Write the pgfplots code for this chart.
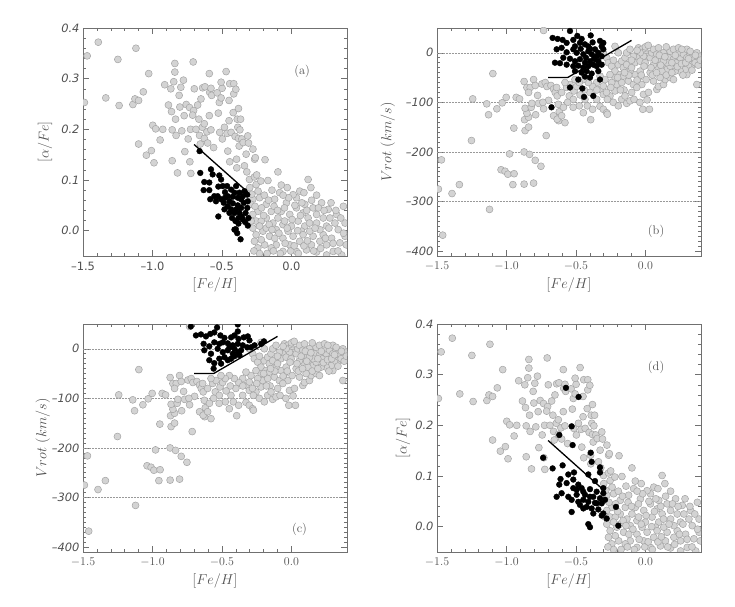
\documentclass[border=0pt]{standalone}
\usepackage{fontspec}
\usepackage{pgfplots}
\usepackage{pgfplotstable}
\pgfplotsset{compat=1.18}
\newfontfamily\tickfont{DejaVu Sans}

\definecolor{ptgray}{HTML}{D3D3D3}
\definecolor{ptedge}{HTML}{A4A4A4}
\definecolor{frame}{HTML}{707070}
\definecolor{txt}{HTML}{505050}

% whole sample in the chemistry plane (panels a and d)
\pgfplotstableread{
x y
-1.470 0.345
-1.490 0.253
-1.390 0.372
-1.336 0.262
-1.249 0.338
-1.240 0.247
-1.119 0.360
-1.141 0.249
-1.126 0.260
-1.100 0.257
-1.066 0.274
-1.027 0.310
-1.100 0.171
-1.044 0.149
-1.008 0.158
-0.989 0.134
-0.998 0.208
-0.977 0.201
-0.945 0.179
-0.926 0.200
-0.912 0.288
-0.885 0.248
-0.868 0.280
-0.863 0.235
-0.858 0.199
-0.858 0.138
-0.847 0.294
-0.839 0.330
-0.839 0.313
-0.834 0.220
-0.830 0.188
-0.820 0.114
-0.808 0.267
-0.803 0.244
-0.796 0.283
-0.789 0.197
-0.777 0.297
-0.757 0.249
-0.772 0.227
-0.767 0.156
-0.743 0.181
-0.731 0.136
-0.733 0.243
-0.726 0.200
-0.724 0.113
-0.707 0.333
-0.699 0.280
-0.704 0.237
-0.711 0.228
-0.687 0.200
-0.675 0.248
-0.666 0.220
-0.661 0.188
-0.656 0.171
-0.651 0.260
-0.639 0.282
-0.641 0.204
-0.627 0.211
-0.627 0.182
-0.622 0.284
-0.608 0.195
-0.603 0.173
-0.591 0.310
-0.588 0.273
-0.579 0.281
-0.574 0.267
-0.591 0.227
-0.579 0.199
-0.560 0.164
-0.535 0.272
-0.526 0.232
-0.519 0.253
-0.516 0.194
-0.506 0.262
-0.499 0.281
-0.506 0.293
-0.497 0.181
-0.482 0.204
-0.470 0.314
-0.463 0.192
-0.458 0.157
-0.449 0.217
-0.449 0.257
-0.444 0.290
-0.444 0.136
-0.434 0.194
-0.419 0.233
-0.415 0.290
-0.415 0.270
-0.405 0.186
-0.400 0.279
-0.395 0.141
-0.390 0.220
-0.386 0.204
-0.381 0.241
-0.381 0.182
-0.376 0.167
-0.371 0.199
-0.366 0.220
-0.357 0.181
-0.347 0.174
-0.338 0.128
-0.326 0.151
-0.314 0.187
-0.309 0.173
-0.277 0.161
-0.265 0.141
-0.260 0.144
-0.190 0.140
-0.393 0.124
-0.321 0.116
-0.302 0.101
-0.266 0.106
-0.254 0.091
-0.169 0.099
-0.097 0.116
-0.073 0.090
0.120 0.101
0.060 0.078
0.036 0.065
0.181 0.070
0.217 0.055
0.265 0.042
0.374 0.048
0.325 0.032
0.386 0.015
0.337 0.002
0.253 0.009
0.181 0.032
0.156 0.045
0.096 0.052
0.036 0.045
-0.012 0.032
-0.073 0.038
-0.121 0.062
-0.181 0.052
-0.229 0.065
-0.278 0.062
-0.242 0.038
-0.181 0.025
-0.133 0.015
-0.254 0.019
-0.278 0.005
-0.205 -0.001
-0.157 -0.011
-0.109 0.002
-0.061 0.012
-0.024 -0.001
0.012 -0.011
0.060 -0.021
-0.012 -0.028
-0.109 -0.028
-0.193 -0.028
-0.217 -0.018
-0.254 -0.008
-0.061 -0.041
0.036 -0.041
0.108 -0.038
0.181 -0.042
0.253 -0.028
0.301 -0.041
0.362 -0.048
0.156 -0.011
0.229 -0.008
0.289 -0.015
0.096 0.009
0.048 0.019
0.120 0.025
0.181 0.015
0.229 0.025
0.277 0.025
0.313 0.015
0.386 -0.011
0.349 -0.024
0.395 -0.028
-0.036 0.055
0.012 0.071
0.084 0.035
0.132 -0.001
0.205 0.002
-0.061 -0.015
-0.145 0.038
-0.217 0.019
-0.097 0.025
-0.049 0.019
0.000 0.009
0.072 -0.001
0.144 -0.028
0.205 -0.021
0.253 -0.048
0.084 -0.008
-0.290 0.052
-0.278 0.032
-0.290 0.019
-0.229 0.009
-0.181 0.005
-0.145 -0.034
-0.266 -0.021
-0.242 -0.034
-0.285 0.072
-0.262 0.048
-0.240 0.078
-0.215 0.045
-0.200 0.030
-0.195 0.070
-0.165 0.060
-0.160 0.012
-0.140 0.002
-0.125 0.048
-0.120 -0.015
-0.100 0.040
-0.090 -0.005
-0.085 0.075
-0.080 -0.045
-0.050 0.045
-0.045 -0.025
-0.030 0.005
-0.020 0.065
-0.005 -0.040
0.005 0.022
0.020 -0.030
0.025 0.050
0.045 0.000
0.050 -0.045
0.065 0.030
0.075 0.055
0.090 -0.030
0.110 0.040
0.115 -0.020
0.130 0.015
0.145 0.060
0.160 -0.040
0.170 0.005
0.195 0.045
0.210 -0.035
0.235 0.040
0.245 -0.015
0.270 0.005
0.285 0.055
0.300 -0.025
0.320 0.040
0.335 -0.040
0.355 0.025
0.375 -0.005
-0.230 -0.045
-0.175 -0.045
-0.130 -0.040
-0.250 0.110
-0.220 0.098
-0.140 0.080
-0.060 0.070
-0.030 0.085
0.090 0.075
0.140 0.085
-0.300 0.085
-0.270 -0.040
}\grayalpha

% whole sample in the kinematic plane (panels b and c)
\pgfplotstableread{
x y
-0.733 45
-1.098 -42
-1.243 -93
-1.142 -103
-1.129 -125
-1.069 -113
-1.031 -101
-1.002 -90
-1.252 -177
-1.468 -216
-1.490 -275
-1.392 -284
-1.339 -266
-1.122 -316
-1.459 -368
-1.039 -236
-1.010 -239
-0.990 -245
-0.945 -244
-0.954 -266
-0.873 -265
-0.805 -263
-0.752 -229
-0.793 -217
-0.873 -200
-0.834 -205
-0.978 -204
-0.947 -152
-0.866 -157
-0.841 -150
-0.714 -167
-0.870 -135
-0.841 -130
-0.853 -122
-0.866 -112
-0.822 -110
-0.790 -125
-0.930 -90
-0.906 -93
-0.873 -58
-0.853 -70
-0.829 -70
-0.841 -80
-0.805 -54
-0.793 -66
-0.817 -102
-0.776 -86
-0.769 -102
-0.745 -63
-0.721 -60
-0.709 -68
-0.680 -66
-0.661 -73
-0.649 -80
-0.697 -96
-0.738 -100
-0.733 -113
-0.642 -130
-0.661 -127
-0.625 -137
-0.639 -70
-0.635 -87
-0.627 -104
-0.620 -119
-0.635 -134
-0.603 -127
-0.579 -141
-0.603 -80
-0.567 -70
-0.548 -87
-0.519 -94
-0.514 -77
-0.495 -68
-0.476 -107
-0.447 -121
-0.435 -94
-0.418 -107
-0.394 -135
-0.380 -114
-0.351 -94
-0.327 -108
-0.303 -114
-0.279 -121
-0.274 -124
-0.327 -74
-0.303 -84
-0.255 -87
-0.219 -77
-0.207 -64
-0.171 -94
-0.154 -75
-0.135 -102
-0.111 -97
-0.082 -94
-0.123 -57
-0.087 -64
-0.050 -50
-0.026 -64
-0.014 -84
-0.019 -114
0.029 -114
0.005 -54
0.034 -40
0.058 -57
0.082 -74
0.094 -68
0.130 -64
0.142 -54
0.178 -50
0.202 -54
0.298 -44
0.370 -64
0.334 -24
0.274 -17
-0.303 -67
-0.171 -60
-0.075 -44
-0.038 -37
-0.062 -70
-0.147 -87
-0.231 -100
-0.195 -107
-0.274 -94
-0.099 -80
0.022 -80
0.106 -50
-0.050 10
-0.026 7
-0.002 3
0.010 -3
0.022 -7
0.034 -10
-0.014 -7
-0.038 0
-0.062 -10
-0.075 -20
-0.038 -17
-0.002 -20
0.046 0
0.058 7
0.082 -3
0.106 -13
0.130 -27
0.154 -34
0.118 -37
0.082 -27
0.058 -24
0.094 10
0.130 0
0.166 -10
0.178 3
0.202 -13
0.226 -20
0.250 -10
0.238 0
0.274 -3
0.298 -10
0.322 -3
0.346 -10
0.370 0
0.382 -10
0.358 -20
0.310 -27
0.286 -34
0.250 -37
0.214 -37
0.178 -27
0.154 -20
0.130 -17
0.202 7
0.238 10
0.298 7
0.322 3
0.262 7
0.394 -7
-0.303 0
-0.279 -10
-0.267 -20
-0.243 -27
-0.219 -37
-0.195 -24
-0.171 -17
-0.147 -10
-0.135 0
-0.111 7
-0.087 -7
-0.159 -30
-0.183 -44
-0.219 -50
-0.255 -44
-0.291 -54
-0.327 -47
-0.351 -60
-0.380 -68
-0.411 -60
-0.447 -54
-0.476 -60
-0.507 -54
-0.543 -64
-0.579 -60
-0.243 -60
-0.159 -47
-0.111 -37
-0.135 -24
-0.195 0
-0.219 13
-0.010 -27
0.040 -30
0.070 -15
0.100 -5
0.110 -25
0.140 -8
0.150 -45
0.190 -40
0.190 -20
0.215 -5
0.230 -28
0.260 -22
0.270 -45
0.290 -20
0.310 -12
0.335 -35
0.360 -5
0.380 -25
0.395 -15
0.000 12
-0.060 5
0.020 15
0.150 12
-0.100 -30
-0.120 -45
-0.060 -55
-0.030 -45
0.050 -45
0.080 -40
-0.200 -50
-0.180 -75
-0.250 -70
-0.280 -80
-0.150 -40
-0.100 -15
-0.230 -15
0.012 -95
-0.040 -100
-0.350 -75
-0.400 -80
-0.440 -75
-0.470 -85
-0.520 -110
-0.560 -100
-0.590 -110
}\grayvrot

% chemically selected stars (a: chemistry plane, b: kinematic plane)
\pgfplotstableread{
x y
-0.661 0.157
-0.656 0.114
-0.627 0.096
-0.591 0.095
-0.579 0.121
-0.567 0.111
-0.632 0.080
-0.591 0.080
-0.584 0.062
-0.543 0.058
-0.555 0.068
-0.526 0.087
-0.519 0.109
-0.506 0.101
-0.526 0.028
-0.494 0.088
-0.478 0.076
-0.463 0.088
-0.458 0.068
-0.434 0.081
-0.410 0.075
-0.398 0.088
-0.374 0.075
-0.350 0.068
-0.362 0.062
-0.338 0.078
-0.318 0.071
-0.314 0.058
-0.318 0.045
-0.309 0.025
-0.314 0.010
-0.330 0.035
-0.357 0.028
-0.381 0.025
-0.410 0.035
-0.434 0.042
-0.458 0.048
-0.487 0.055
-0.506 0.062
-0.478 0.065
-0.446 0.058
-0.422 0.054
-0.386 0.050
-0.362 0.045
-0.374 0.035
-0.398 0.042
-0.410 0.002
-0.390 -0.005
-0.366 -0.017
-0.400 0.003
-0.531 0.068
-0.422 0.067
-0.386 0.065
-0.343 0.055
-0.446 0.035
-0.482 0.042
-0.427 0.025
-0.403 0.019
-0.350 0.022
-0.333 0.017
-0.381 0.014
}\blacka

\pgfplotstableread{
x y
-0.543 44
-0.668 30
-0.632 28
-0.596 26
-0.567 20
-0.519 26
-0.490 34
-0.459 28
-0.394 35
-0.435 17
-0.411 13
-0.380 21
-0.327 24
-0.315 13
-0.639 7
-0.603 10
-0.567 1
-0.519 7
-0.495 0
-0.466 8
-0.447 -3
-0.411 3
-0.387 -3
-0.363 7
-0.339 0
-0.315 -7
-0.591 -10
-0.543 -12
-0.507 -17
-0.471 -13
-0.428 -10
-0.399 -17
-0.370 -12
-0.339 -17
-0.651 -20
-0.615 -21
-0.567 -24
-0.519 -27
-0.483 -26
-0.447 -30
-0.411 -27
-0.375 -24
-0.351 -27
-0.315 -24
-0.507 -37
-0.459 -40
-0.423 -37
-0.387 -42
-0.339 -37
-0.435 -48
-0.327 -54
-0.543 -70
-0.454 -72
-0.442 -89
-0.375 -87
-0.676 -110
-0.399 8
-0.435 -20
-0.351 -7
-0.471 20
-0.507 13
-0.303 20
-0.303 7
-0.483 -54
-0.399 -50
}\blackb

% kinematically selected stars (c: kinematic plane, d: chemistry plane)
\pgfplotstableread{
x y
-0.724 45
-0.535 43
-0.386 49
-0.386 35
-0.687 27
-0.651 29
-0.615 25
-0.584 30
-0.555 33
-0.511 27
-0.482 22
-0.434 23
-0.410 27
-0.381 20
-0.343 23
-0.314 25
-0.302 17
-0.632 10
-0.591 5
-0.555 13
-0.519 10
-0.494 13
-0.458 11
-0.422 7
-0.386 10
-0.350 7
-0.318 3
-0.627 -3
-0.579 -10
-0.531 0
-0.494 -7
-0.458 -3
-0.422 -10
-0.386 -7
-0.362 -3
-0.410 0
-0.446 3
-0.591 -23
-0.555 -29
-0.519 -20
-0.482 -17
-0.458 -23
-0.434 -20
-0.410 -15
-0.374 -13
-0.506 -30
-0.560 -40
-0.198 15
-0.217 10
-0.290 3
-0.265 7
}\blackc

\pgfplotstableread{
x y
-0.572 0.274
-0.481 0.256
-0.531 0.198
-0.620 0.181
-0.394 0.146
-0.524 0.161
-0.736 0.136
-0.596 0.121
-0.387 0.128
-0.668 0.115
-0.327 0.117
-0.514 0.107
-0.411 0.103
-0.555 0.103
-0.327 0.107
-0.611 0.094
-0.519 0.093
-0.620 0.083
-0.567 0.086
-0.483 0.083
-0.519 0.076
-0.459 0.076
-0.399 0.074
-0.351 0.069
-0.303 0.066
-0.603 0.066
-0.555 0.059
-0.495 0.063
-0.435 0.063
-0.639 0.059
-0.375 0.059
-0.327 0.056
-0.291 0.053
-0.531 0.053
-0.483 0.049
-0.447 0.053
-0.411 0.049
-0.363 0.047
-0.315 0.046
-0.471 0.043
-0.423 0.039
-0.387 0.036
-0.339 0.034
-0.303 0.026
-0.279 0.016
-0.315 0.022
-0.375 0.026
-0.531 0.029
-0.411 0.005
-0.399 -0.001
-0.195 0.002
-0.212 0.039
-0.447 0.036
-0.351 0.046
-0.399 0.059
-0.303 0.076
-0.363 0.090
-0.447 0.069
-0.495 0.073
}\blackd

\tikzset{grid line/.style={densely dotted, gray!80, line width=0.5bp}}

\pgfplotsset{
  panel/.style={
    scale only axis, width=264bp, height=228bp,
    xmin=-1.5, xmax=0.4,
    xtick={-1.5,-1,-0.5,0},
    minor x tick num=4,
    tick align=inside,
    major tick length=6bp, minor tick length=3bp,
    tick style={frame, line width=0.5bp},
    axis line style={frame, line width=0.6bp},
    xlabel={$[Fe/H]$},
    label style={font=\fontsize{14}{16}\selectfont, text=txt},
    xlabel style={at={(axis description cs:0.5,-0.125)}, anchor=center},
    tick label style={text=txt},
    xticklabel style={font=\fontsize{13}{15}\selectfont, yshift=-2.5bp},
    yticklabel style={font=\fontsize{11.5}{13}\selectfont\tickfont\itshape},
    clip marker paths=true,
  },
  sansx/.style={xticklabel style={font=\fontsize{11.5}{13}\selectfont\tickfont},
    xticklabels={\textendash1.5,\textendash1.0,\textendash0.5,0.0}},
  serifx/.style={xticklabels={$-1.5$,$-1.0$,$-0.5$,$0.0$}},
  alphay/.style={ymin=-0.05, ymax=0.4, ytick={0,0.1,0.2,0.3,0.4},
    minor y tick num=4, yticklabels={0.0,0.1,0.2,0.3,0.4},
    ylabel={$[\alpha/Fe]$}},
  vroty/.style={ymin=-410, ymax=50, ytick={-400,-300,-200,-100,0},
    minor y tick num=9,
    yticklabels={\textendash400,\textendash300,\textendash200,\textendash100,0},
    ylabel={$Vrot\ (km/s)$}},
  ylab/.style={ylabel style={at={(axis description cs:#1,0.5)}, anchor=center}},
  graypts/.style={only marks, mark=*, mark size=3.5bp,
    mark options={fill=ptgray, draw=ptedge, line width=0.5bp}},
  blackpts/.style={only marks, mark=*, mark size=2.9bp,
    mark options={fill=black, draw=black}},
  cut/.style={black, line width=1.3bp, no marks},
}

\begin{document}
\begin{tikzpicture}
\path[use as bounding box] (0,0) rectangle (735bp,607bp);

% (a)
\begin{axis}[panel, sansx, alphay, ylab=-0.144, at={(83bp,351bp)}, anchor=south west]
\addplot[graypts] table[x=x, y=y] {\grayalpha};
\addplot[blackpts] table[x=x, y=y] {\blacka};
\addplot[cut] coordinates {(-0.70,0.170) (-0.31,0.075)};
\node[font=\fontsize{12.5}{14}\selectfont, text=txt] at (rel axis cs:0.83,0.81) {(a)};
\end{axis}

% (b)
\begin{axis}[panel, serifx, vroty, ylab=-0.186, at={(437bp,351bp)}, anchor=south west]
\draw[grid line] (axis cs:-1.5,0) -- (axis cs:0.4,0);
\draw[grid line] (axis cs:-1.5,-100) -- (axis cs:0.4,-100);
\draw[grid line] (axis cs:-1.5,-200) -- (axis cs:0.4,-200);
\draw[grid line] (axis cs:-1.5,-300) -- (axis cs:0.4,-300);
\addplot[graypts] table[x=x, y=y] {\grayvrot};
\addplot[blackpts] table[x=x, y=y] {\blackb};
\addplot[cut] coordinates {(-0.70,-50) (-0.56,-50) (-0.10,25)};
\node[font=\fontsize{12.5}{14}\selectfont, text=txt] at (rel axis cs:0.83,0.11) {(b)};
\end{axis}

% (c)
\begin{axis}[panel, serifx, vroty, ylab=-0.152, at={(83bp,55bp)}, anchor=south west]
\draw[grid line] (axis cs:-1.5,0) -- (axis cs:0.4,0);
\draw[grid line] (axis cs:-1.5,-100) -- (axis cs:0.4,-100);
\draw[grid line] (axis cs:-1.5,-200) -- (axis cs:0.4,-200);
\draw[grid line] (axis cs:-1.5,-300) -- (axis cs:0.4,-300);
\addplot[graypts] table[x=x, y=y] {\grayvrot};
\addplot[blackpts] table[x=x, y=y] {\blackc};
\addplot[cut] coordinates {(-0.70,-50) (-0.56,-50) (-0.10,25)};
\node[font=\fontsize{12.5}{14}\selectfont, text=txt] at (rel axis cs:0.82,0.10) {(c)};
\end{axis}

% (d)
\begin{axis}[panel, serifx, alphay, ylab=-0.129, at={(437bp,55bp)}, anchor=south west]
\addplot[graypts] table[x=x, y=y] {\grayalpha};
\addplot[blackpts] table[x=x, y=y] {\blackd};
\addplot[cut] coordinates {(-0.70,0.170) (-0.32,0.077)};
\node[font=\fontsize{12.5}{14}\selectfont, text=txt] at (rel axis cs:0.83,0.81) {(d)};
\end{axis}
\end{tikzpicture}
\end{document}
